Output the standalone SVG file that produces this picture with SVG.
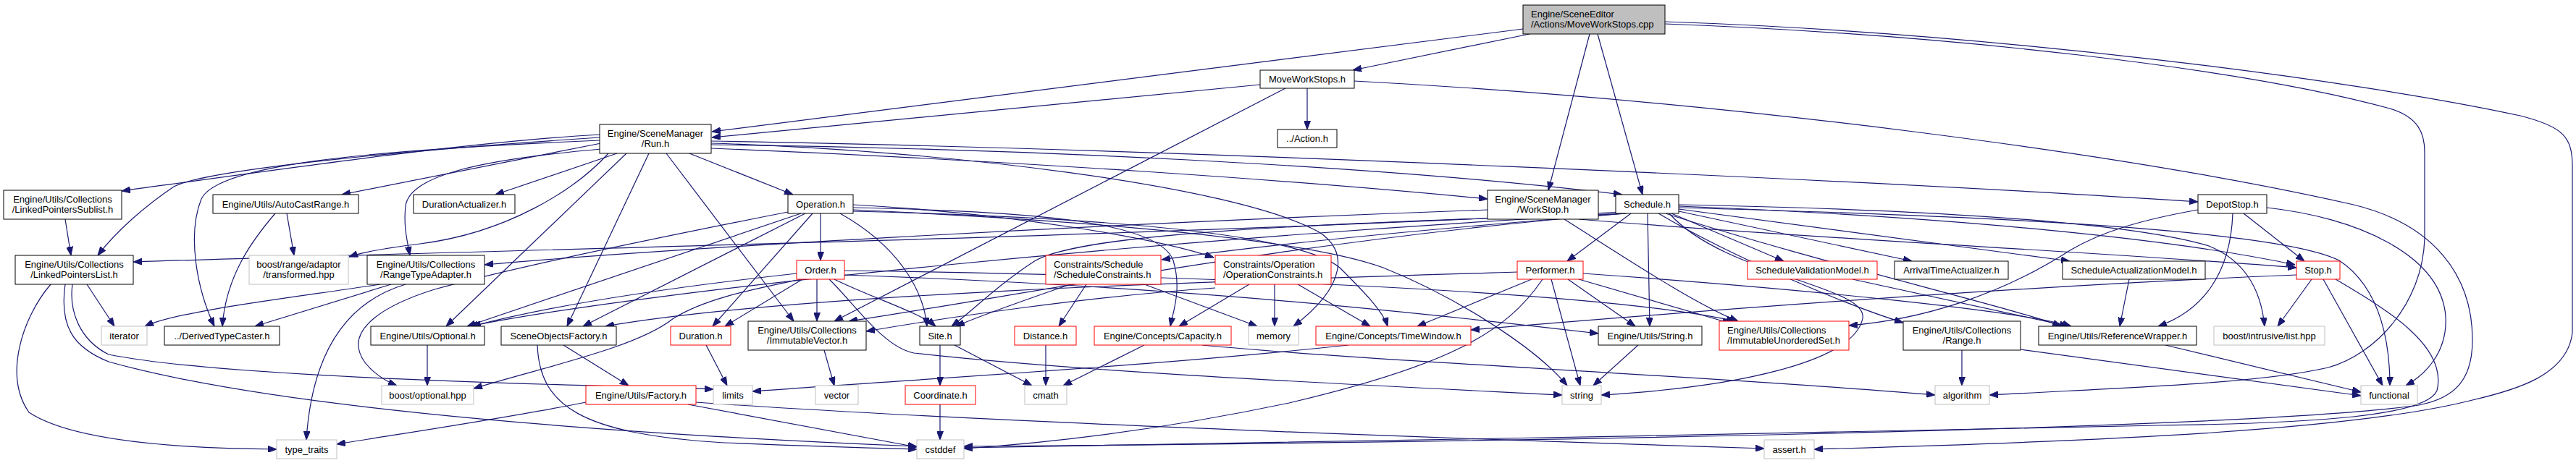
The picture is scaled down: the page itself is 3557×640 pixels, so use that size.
<svg xmlns="http://www.w3.org/2000/svg" width="3557" height="640" viewBox="0 0 3557 640">
<style>
rect{fill:#fff;stroke:#000;stroke-width:1}
.g rect{stroke:#bfbfbf}
.r rect{stroke:#ff0000}
.m rect{fill:#bfbfbf}
text{font-family:"Liberation Sans",Arial,sans-serif;font-size:13px;fill:#000;text-anchor:middle}
text.l{text-anchor:start}
#edges path{fill:none;stroke:#191970;stroke-width:1.2;marker-end:url(#ah)}
</style>
<defs>
<marker id="ah" markerUnits="userSpaceOnUse" markerWidth="12" markerHeight="9" refX="12" refY="4.5" orient="auto">
<path d="M0,0 L12,4.5 L0,9 z" fill="#191970" stroke="#191970" stroke-width="1"/>
</marker>
</defs>
<rect x="0" y="0" width="3557" height="640" style="fill:#fff;stroke:none"/>
<g id="edges">
<path d="M2112,47 L1868,97"/>
<path d="M2103,40 L983,182"/>
<path d="M2195,47 L2138,263"/>
<path d="M2206,47 L2268,269"/>
<path d="M2299,33 C2700,48 3100,95 3300,150 C3340,162 3348,185 3348,210 L3348,330 C3345,420 3280,490 3215,508 C3120,530 2950,535 2747,546"/>
<path d="M2299,30 C2750,45 3250,110 3480,160 C3540,175 3552,190 3552,230 L3552,460 C3545,520 3470,540 3414,553 C3250,595 2900,610 2505,621"/>
<path d="M1805,122 L1805,179"/>
<path d="M1740,117 L983,190"/>
<path d="M1775,122 L1152,444"/>
<path d="M1870,112 C2400,140 2950,215 3250,283 C3360,310 3414,380 3414,470 C3414,525 3390,550 3340,560 C3100,595 2000,612 1331,617"/>
<path d="M828,186 C650,196 400,232 168,264"/>
<path d="M828,190 C600,205 290,232 240,258 C200,285 160,320 135,353"/>
<path d="M830,198 L472,269"/>
<path d="M852,212 L684,269"/>
<path d="M952,212 L1095,269"/>
<path d="M830,206 C650,222 565,245 560,285 C557,312 562,332 566,353"/>
<path d="M840,212 C795,262 700,322 580,337 C540,342 505,347 482,355"/>
<path d="M828,194 C500,208 300,228 278,275 C258,325 272,400 296,451"/>
<path d="M865,212 L616,451"/>
<path d="M896,212 L783,451"/>
<path d="M920,212 L1096,444"/>
<path d="M982,200 C1400,205 1900,228 2240,269"/>
<path d="M982,205 C1400,222 1800,250 2054,275"/>
<path d="M982,195 C1600,205 2600,250 3035,279"/>
<path d="M982,198 C1300,208 1700,255 1820,320 C1862,345 1860,395 1786,451"/>
<path d="M1133,295 L1133,360"/>
<path d="M1106,295 L645,451"/>
<path d="M1112,295 L805,451"/>
<path d="M1122,295 L984,451"/>
<path d="M1160,295 C1240,340 1275,400 1280,451"/>
<path d="M1178,283 C1400,295 1600,330 1676,356"/>
<path d="M1178,287 C1420,292 1600,305 1620,360 C1632,400 1620,430 1616,451"/>
<path d="M1178,290 C1500,305 1800,330 1910,370 C2010,410 2120,480 2164,533"/>
<path d="M1178,292 C1500,300 1790,320 1850,370 C1880,400 1910,430 1916,451"/>
<path d="M1088,293 C900,330 700,372 600,400 C520,425 492,455 495,480 C498,505 528,525 548,533"/>
<path d="M1128,386 L1128,444"/>
<path d="M1108,386 L1001,451"/>
<path d="M1100,378 C900,400 750,425 652,451"/>
<path d="M1106,386 C1040,400 975,412 930,440 C880,480 760,505 654,537"/>
<path d="M1152,386 C1200,410 1270,432 1292,451"/>
<path d="M1145,386 C1180,420 1220,480 1262,488 C1500,515 1900,533 2157,546"/>
<path d="M1166,374 C1600,380 2200,400 2396,444"/>
<path d="M1166,380 C1600,395 1900,425 2207,461"/>
<path d="M1478,393 C1400,420 1345,440 1320,451"/>
<path d="M1500,393 L1462,451"/>
<path d="M1580,393 L1736,451"/>
<path d="M1725,393 L1628,451"/>
<path d="M1760,393 L1760,451"/>
<path d="M1792,393 L1892,451"/>
<path d="M1678,398 C1500,410 1300,440 1196,458"/>
<path d="M2115,386 L1957,451"/>
<path d="M2142,386 L2182,533"/>
<path d="M2165,386 L2258,451"/>
<path d="M2180,386 L2390,447"/>
<path d="M2130,386 C2080,460 2000,505 1780,557 C1600,595 1450,612 1331,620"/>
<path d="M2095,376 C1700,388 1100,405 836,451"/>
<path d="M2186,378 C2500,400 2790,430 2860,451"/>
<path d="M2240,293 C1500,330 700,345 184,362"/>
<path d="M2242,295 C1600,330 900,400 648,451"/>
<path d="M2244,295 C1800,330 1400,410 1172,444"/>
<path d="M2245,295 C1800,310 1500,322 1430,360 C1380,392 1340,432 1314,451"/>
<path d="M2246,295 C1900,322 1700,345 1604,359"/>
<path d="M2252,295 L2164,361"/>
<path d="M2275,295 L2278,451"/>
<path d="M2290,295 C2400,360 2560,425 2628,446"/>
<path d="M2300,295 C2500,360 2790,428 2846,451"/>
<path d="M2308,295 L2463,361"/>
<path d="M2318,292 L2640,361"/>
<path d="M2318,289 L2858,361"/>
<path d="M2318,285 C2700,300 3000,330 3169,366"/>
<path d="M2318,283 C2700,290 2950,310 3050,340 C3100,360 3122,400 3127,451"/>
<path d="M2318,287 C2800,300 3150,320 3230,360 C3290,400 3300,480 3300,533"/>
<path d="M2305,295 C2380,380 2580,395 2572,440 C2560,500 2400,535 2211,546"/>
<path d="M2054,290 C1500,310 900,345 669,366"/>
<path d="M2180,303 C2500,330 2900,348 3171,370"/>
<path d="M2160,303 C2250,360 2340,420 2400,444"/>
<path d="M3098,295 L3182,361"/>
<path d="M3083,295 C3080,380 3040,430 2980,451"/>
<path d="M3130,287 C3250,300 3370,350 3377,437 C3380,490 3345,520 3322,533"/>
<path d="M3035,290 C2950,305 2900,322 2860,345 C2760,410 2650,442 2553,450"/>
<path d="M3192,386 L3145,451"/>
<path d="M3208,386 L3290,533"/>
<path d="M3225,386 C3300,430 3380,480 3365,540 C3350,575 3200,585 2980,588 C2500,600 1700,612 1331,619"/>
<path d="M3171,380 C2800,395 2400,425 2031,456"/>
<path d="M2940,386 L2927,451"/>
<path d="M2558,386 L2856,451"/>
<path d="M2990,477 L3260,542"/>
<path d="M2709,484 L2709,533"/>
<path d="M2790,483 L3260,547"/>
<path d="M1298,477 L1298,533"/>
<path d="M1318,477 L1425,533"/>
<path d="M1444,477 L1444,533"/>
<path d="M1580,477 L1468,533"/>
<path d="M1660,477 C1900,500 2400,522 2672,546"/>
<path d="M1298,559 L1298,608"/>
<path d="M1862,477 C1600,505 1300,522 1039,541"/>
<path d="M2262,477 L2200,533"/>
<path d="M1138,484 L1152,533"/>
<path d="M975,477 L1004,533"/>
<path d="M778,477 L868,533"/>
<path d="M742,477 C745,560 800,600 1000,612 C1150,618 1230,620 1266,621"/>
<path d="M809,556 C700,578 550,600 465,614"/>
<path d="M950,559 L1266,618"/>
<path d="M961,556 C1300,580 1900,603 2436,620"/>
<path d="M590,477 L590,533"/>
<path d="M90,303 L98,353"/>
<path d="M120,393 L158,451"/>
<path d="M100,393 C95,430 110,470 150,490 C300,520 700,530 985,538"/>
<path d="M70,393 C30,440 5,520 40,570 C100,610 250,620 382,621"/>
<path d="M90,393 C82,450 100,480 150,500 C400,570 900,602 1266,617"/>
<path d="M396,295 L406,353"/>
<path d="M380,295 C350,330 312,380 307,451"/>
<path d="M525,393 C400,412 245,430 200,451"/>
<path d="M540,393 L352,451"/>
<path d="M560,393 C470,420 430,500 423,608"/>
</g>
<g id="main" class="m"><rect x="2103" y="7" width="196" height="40"/><text class="l" x="2114" y="24">Engine/SceneEditor</text><text class="l" x="2114" y="38">/Actions/MoveWorkStops.cpp</text></g>
<g id="mws"><rect x="1740" y="97" width="130" height="25"/><text x="1805" y="114">MoveWorkStops.h</text></g>
<g id="action"><rect x="1764" y="179" width="82" height="25"/><text x="1805" y="196">../Action.h</text></g>
<g id="run"><rect x="828" y="172" width="154" height="40"/><text x="905" y="189">Engine/SceneManager</text><text x="905" y="203">/Run.h</text></g>
<g id="sublist"><rect x="5" y="263" width="163" height="40"/><text x="86.5" y="280">Engine/Utils/Collections</text><text x="86.5" y="294">/LinkedPointersSublist.h</text></g>
<g id="autocast"><rect x="294" y="269" width="201" height="26"/><text x="394.5" y="286.5">Engine/Utils/AutoCastRange.h</text></g>
<g id="duract"><rect x="571" y="269" width="140" height="26"/><text x="641" y="286.5">DurationActualizer.h</text></g>
<g id="operation"><rect x="1088" y="269" width="90" height="26"/><text x="1133" y="286.5">Operation.h</text></g>
<g id="workstop"><rect x="2054" y="263" width="153" height="40"/><text x="2130.5" y="280">Engine/SceneManager</text><text x="2130.5" y="294">/WorkStop.h</text></g>
<g id="schedule"><rect x="2231" y="269" width="87" height="26"/><text x="2274.5" y="286.5">Schedule.h</text></g>
<g id="depotstop"><rect x="3035" y="269" width="95" height="26"/><text x="3082.5" y="286.5">DepotStop.h</text></g>
<g id="lplist"><rect x="21" y="353" width="163" height="40"/><text x="102.5" y="370">Engine/Utils/Collections</text><text x="102.5" y="384">/LinkedPointersList.h</text></g>
<g id="transformed" class="g"><rect x="344" y="353" width="137" height="40"/><text x="412.5" y="370">boost/range/adaptor</text><text x="412.5" y="384">/transformed.hpp</text></g>
<g id="rangetype"><rect x="507" y="353" width="162" height="40"/><text x="588" y="370">Engine/Utils/Collections</text><text x="588" y="384">/RangeTypeAdapter.h</text></g>
<g id="order" class="r"><rect x="1100" y="360" width="66" height="26"/><text x="1133" y="377.5">Order.h</text></g>
<g id="schedcons" class="r"><rect x="1444" y="353" width="159" height="40"/><text class="l" x="1455" y="370">Constraints/Schedule</text><text class="l" x="1455" y="384">/ScheduleConstraints.h</text></g>
<g id="opcons" class="r"><rect x="1678" y="353" width="160" height="40"/><text class="l" x="1689" y="370">Constraints/Operation</text><text class="l" x="1689" y="384">/OperationConstraints.h</text></g>
<g id="performer" class="r"><rect x="2095" y="361" width="91" height="25"/><text x="2140.5" y="378">Performer.h</text></g>
<g id="svm" class="r"><rect x="2413" y="361" width="179" height="25"/><text x="2502.5" y="378">ScheduleValidationModel.h</text></g>
<g id="ata"><rect x="2616" y="361" width="157" height="25"/><text x="2694.5" y="378">ArrivalTimeActualizer.h</text></g>
<g id="sam"><rect x="2848" y="361" width="197" height="25"/><text x="2946.5" y="378">ScheduleActualizationModel.h</text></g>
<g id="stop" class="r"><rect x="3171" y="361" width="60" height="25"/><text x="3201" y="378">Stop.h</text></g>
<g id="iterator" class="g"><rect x="140" y="451" width="63" height="26"/><text x="171.5" y="468.5">iterator</text></g>
<g id="dtc"><rect x="227" y="451" width="159" height="26"/><text x="306.5" y="468.5">../DerivedTypeCaster.h</text></g>
<g id="optional"><rect x="512" y="451" width="157" height="26"/><text x="590.5" y="468.5">Engine/Utils/Optional.h</text></g>
<g id="sof"><rect x="692" y="451" width="159" height="26"/><text x="771.5" y="468.5">SceneObjectsFactory.h</text></g>
<g id="duration" class="r"><rect x="926" y="451" width="83" height="26"/><text x="967.5" y="468.5">Duration.h</text></g>
<g id="ivec"><rect x="1033" y="444" width="163" height="40"/><text x="1114.5" y="461">Engine/Utils/Collections</text><text x="1114.5" y="475">/ImmutableVector.h</text></g>
<g id="site"><rect x="1270" y="451" width="56" height="26"/><text x="1298" y="468.5">Site.h</text></g>
<g id="distance" class="r"><rect x="1401" y="451" width="85" height="26"/><text x="1443.5" y="468.5">Distance.h</text></g>
<g id="capacity" class="r"><rect x="1511" y="451" width="189" height="26"/><text x="1605.5" y="468.5">Engine/Concepts/Capacity.h</text></g>
<g id="memory" class="g"><rect x="1724" y="451" width="69" height="26"/><text x="1758.5" y="468.5">memory</text></g>
<g id="timewindow" class="r"><rect x="1817" y="451" width="214" height="26"/><text x="1924" y="468.5">Engine/Concepts/TimeWindow.h</text></g>
<g id="stringh"><rect x="2207" y="451" width="143" height="26"/><text x="2278.5" y="468.5">Engine/Utils/String.h</text></g>
<g id="iuset" class="r"><rect x="2374" y="444" width="179" height="40"/><text class="l" x="2385" y="461">Engine/Utils/Collections</text><text class="l" x="2385" y="475">/ImmutableUnorderedSet.h</text></g>
<g id="range"><rect x="2628" y="444" width="162" height="40"/><text x="2709" y="461">Engine/Utils/Collections</text><text x="2709" y="475">/Range.h</text></g>
<g id="refwrap"><rect x="2815" y="451" width="218" height="26"/><text x="2924" y="468.5">Engine/Utils/ReferenceWrapper.h</text></g>
<g id="intrusive" class="g"><rect x="3057" y="451" width="153" height="26"/><text x="3133.5" y="468.5">boost/intrusive/list.hpp</text></g>
<g id="boostopt" class="g"><rect x="527" y="533" width="127" height="26"/><text x="590.5" y="550.5">boost/optional.hpp</text></g>
<g id="factory" class="r"><rect x="809" y="533" width="152" height="26"/><text x="885" y="550.5">Engine/Utils/Factory.h</text></g>
<g id="limits" class="g"><rect x="985" y="533" width="54" height="26"/><text x="1012" y="550.5">limits</text></g>
<g id="vector" class="g"><rect x="1126" y="533" width="59" height="26"/><text x="1155.5" y="550.5">vector</text></g>
<g id="coordinate" class="r"><rect x="1250" y="533" width="97" height="26"/><text x="1298.5" y="550.5">Coordinate.h</text></g>
<g id="cmath" class="g"><rect x="1415" y="533" width="58" height="26"/><text x="1444" y="550.5">cmath</text></g>
<g id="string" class="g"><rect x="2157" y="533" width="54" height="26"/><text x="2184" y="550.5">string</text></g>
<g id="algorithm" class="g"><rect x="2672" y="533" width="75" height="26"/><text x="2709.5" y="550.5">algorithm</text></g>
<g id="functional" class="g"><rect x="3260" y="533" width="78" height="26"/><text x="3299" y="550.5">functional</text></g>
<g id="type_traits" class="g"><rect x="382" y="608" width="83" height="26"/><text x="423.5" y="625.5">type_traits</text></g>
<g id="cstddef" class="g"><rect x="1266" y="608" width="65" height="26"/><text x="1298.5" y="625.5">cstddef</text></g>
<g id="assert" class="g"><rect x="2436" y="608" width="69" height="26"/><text x="2470.5" y="625.5">assert.h</text></g>
</svg>
